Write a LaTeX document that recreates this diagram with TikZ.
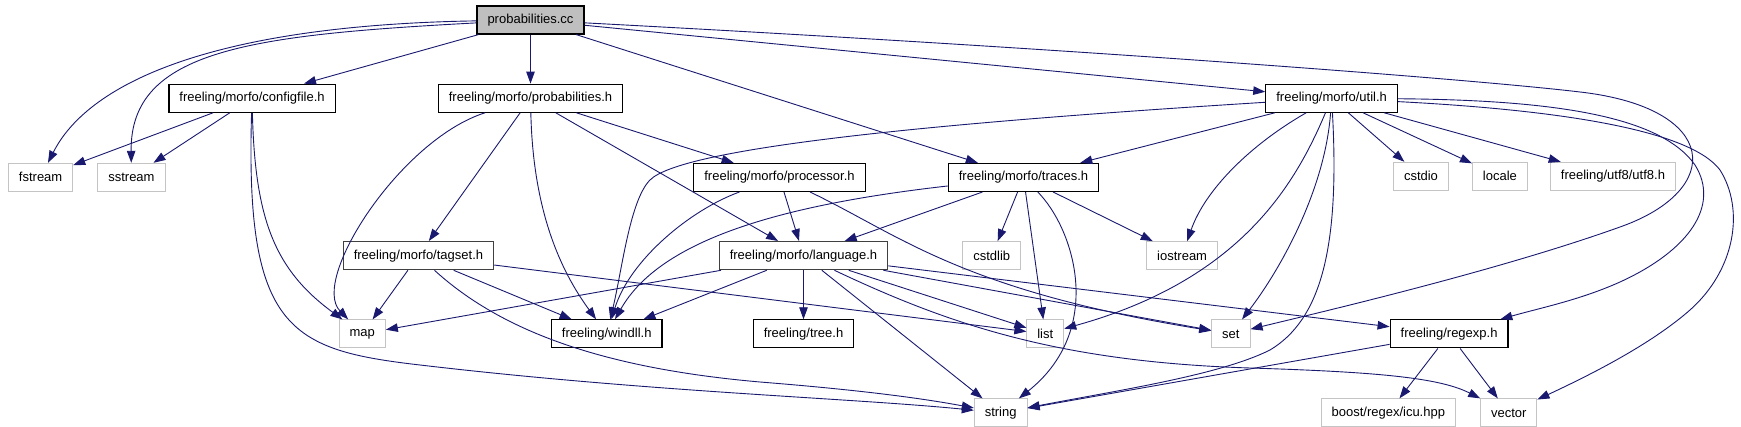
\documentclass[tikz,border=0pt]{standalone}
\usepackage{fontspec}
\setmainfont{Liberation Sans}
\usetikzlibrary{arrows.meta, positioning}
\definecolor{edgeblue}{RGB}{25, 25, 112}
\definecolor{rootgray}{RGB}{191, 191, 191}
\definecolor{sysgray}{RGB}{196, 196, 196}
\definecolor{darkframe}{RGB}{64, 64, 64}

\begin{document}
\begin{tikzpicture}[
    x=1pt, y=-1pt,
    node distance=49pt,
    hdr/.style={draw, line width=1pt, fill=white, minimum height=28pt,
                inner xsep=10.5pt, inner ysep=0pt,
                font=\fontsize{13}{15}\selectfont},
    doc/.style={hdr, draw=black, line width=1.2pt},
    docgray/.style={hdr, draw=darkframe, line width=1.3pt},
    sysh/.style={hdr, draw=sysgray},
    rootbox/.style={hdr, draw=black, line width=1.2pt, fill=rootgray},
    arrow/.style={-{Triangle[length=12pt, width=8.5pt]}, draw=edgeblue,
                  line width=0.9pt},
]
    \useasboundingbox (0,0) rectangle (1741,427);
    \fill[white] (0,0) rectangle (1741,427);

    \node[rootbox] (probcc) at (530.5,20) {probabilities.cc};
    \node[doc, below=of probcc] (probh) {freeling/morfo/probabilities.h};
    \node[doc, left=102pt of probh] (configfile) {freeling/morfo/configfile.h};
    \node[doc, right=642pt of probh] (util) {freeling/morfo/util.h};

    \node[sysh, below left=50pt and 95pt of configfile] (fstream) {fstream};
    \node[sysh, right=24pt of fstream] (sstream) {sstream};
    \node[doc, below right=50pt and 70pt of probh] (processor)
        {freeling/morfo/processor.h};
    \node[doc, right=82pt of processor] (traces) {freeling/morfo/traces.h};
    \node[sysh, below right=49pt and -5pt of util] (cstdio) {cstdio};
    \node[sysh, right=23pt of cstdio] (locale) {locale};
    \node[sysh, right=22pt of locale] (utf8) {freeling/utf8/utf8.h};

    \node[docgray, below left=49pt and 199pt of processor] (tagset)
        {freeling/morfo/tagset.h};
    \node[docgray, below=of processor, xshift=24pt] (language)
        {freeling/morfo/language.h};
    \node[sysh, right=74pt of language] (cstdlib) {cstdlib};
    \node[sysh, right=125pt of cstdlib] (iostream) {iostream};

    \node[doc, below=of language] (tree) {freeling/tree.h};
    \node[doc, left=90pt of tree] (windll) {freeling/windll.h};
    \node[sysh, left=165pt of windll] (map) {map};
    \node[sysh, right=172pt of tree] (list) {list};
    \node[sysh, right=147pt of list] (set) {set};
    \node[doc, right=139pt of set] (regexp) {freeling/regexp.h};

    \node[sysh, below right=50pt and 70pt of set] (icu) {boost/regex/icu.hpp};
    \node[sysh, right=24pt of icu] (vector) {vector};
    \node[sysh, left=293pt of icu] (string) {string};

    % probabilities.cc
    \draw[arrow] (probcc) .. controls (220,25) and (90,80) .. (fstream);
    \draw[arrow] (probcc) .. controls (250,35) and (130,50) .. (sstream);
    \draw[arrow] (probcc) -- (configfile);
    \draw[arrow] (probcc) -- (probh);
    \draw[arrow] (probcc) -- (traces);
    \draw[arrow] (probcc) -- (util);
    \draw[arrow] (probcc) .. controls (1100,50) and (1480,80) .. (1580,92)
        .. controls (1720,108) and (1725,190) .. (1620,227)
        .. controls (1500,270) and (1330,310) .. (set);

    % configfile.h
    \draw[arrow] (configfile) -- (fstream);
    \draw[arrow] (configfile) -- (sstream);
    \draw[arrow] (configfile) .. controls (255,220) and (275,270) .. (map);
    \draw[arrow] (configfile) .. controls (245,330) and (290,350) .. (420,365)
        .. controls (650,392) and (850,398) .. (string);

    % probabilities.h
    \draw[arrow] (probh) .. controls (400,140) and (310,280) .. (map);
    \draw[arrow] (probh) -- (tagset);
    \draw[arrow] (probh) .. controls (533,210) and (560,270) .. (windll);
    \draw[arrow] (probh) -- (language);
    \draw[arrow] (probh) -- (processor);

    % processor.h
    \draw[arrow] (processor) .. controls (690,210) and (630,260) .. (windll);
    \draw[arrow] (processor) -- (language);
    \draw[arrow] (processor) .. controls (900,235) and (960,290) .. (set);

    % traces.h
    \draw[arrow] (traces) .. controls (780,205) and (660,240) .. (windll);
    \draw[arrow] (traces) -- (language);
    \draw[arrow] (traces) -- (cstdlib);
    \draw[arrow] (traces) -- (list);
    \draw[arrow] (traces) .. controls (1075,230) and (1105,330) .. (string);
    \draw[arrow] (traces) -- (iostream);

    % util.h
    \draw[arrow] (util) .. controls (900,125) and (680,150) .. (650,180)
        .. controls (630,200) and (622,270) .. (windll);
    \draw[arrow] (util) -- (traces);
    \draw[arrow] (util) .. controls (1250,145) and (1205,190) .. (iostream);
    \draw[arrow] (util) .. controls (1295,185) and (1240,280) .. (list);
    \draw[arrow] (util) .. controls (1325,190) and (1280,270) .. (set);
    \draw[arrow] (util) .. controls (1340,250) and (1320,320) .. (1270,350)
        .. controls (1220,375) and (1120,390) .. (string);
    \draw[arrow] (util) -- (cstdio);
    \draw[arrow] (util) -- (locale);
    \draw[arrow] (util) -- (utf8);
    \draw[arrow] (util) .. controls (1550,100) and (1660,115) .. (1695,165)
        .. controls (1720,205) and (1690,250) .. (1620,282)
        .. controls (1580,300) and (1540,308) .. (regexp);
    \draw[arrow] (util) .. controls (1560,110) and (1690,130) .. (1720,170)
        .. controls (1745,210) and (1735,270) .. (1690,310)
        .. controls (1650,345) and (1590,375) .. (vector);

    % language.h
    \draw[arrow] (language) -- (map);
    \draw[arrow] (language) -- (windll);
    \draw[arrow] (language) -- (tree);
    \draw[arrow] (language) -- (list);
    \draw[arrow] (language) -- (set);
    \draw[arrow] (language) -- (regexp);
    \draw[arrow] (language) -- (string);
    \draw[arrow] (language) .. controls (950,325) and (1060,362) .. (1250,368)
        .. controls (1380,372) and (1440,378) .. (vector);

    % tagset.h
    \draw[arrow] (tagset) -- (map);
    \draw[arrow] (tagset) -- (windll);
    \draw[arrow] (tagset) -- (list);
    \draw[arrow] (tagset) .. controls (500,330) and (600,368) .. (760,382)
        .. controls (860,390) and (920,398) .. (string);

    % regexp.h
    \draw[arrow] (regexp) -- (string);
    \draw[arrow] (regexp) -- (icu);
    \draw[arrow] (regexp) -- (vector);
\end{tikzpicture}
\end{document}
